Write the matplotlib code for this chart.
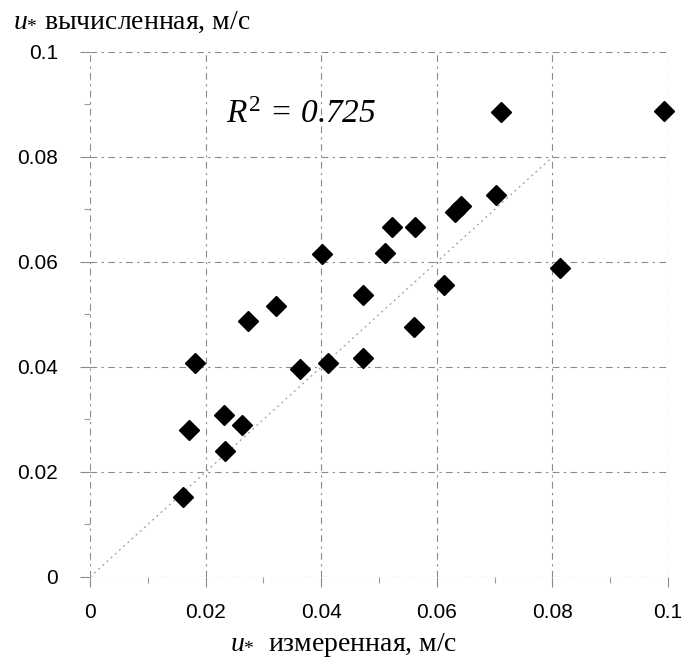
import matplotlib
matplotlib.use("Agg")
import matplotlib.pyplot as plt
from matplotlib.ticker import MultipleLocator, FixedLocator, FixedFormatter

plt.rcParams['mathtext.fontset'] = 'custom'
plt.rcParams['mathtext.rm'] = 'Liberation Serif'
plt.rcParams['mathtext.it'] = 'Liberation Serif:italic'
plt.rcParams['font.family'] = ['Liberation Sans', 'DejaVu Sans']

# measured vs computed friction velocity, m/s
u_measured = [0.0161, 0.0232, 0.0172, 0.0263, 0.0233, 0.0182, 0.0363, 0.0411,
              0.0472, 0.0273, 0.0322, 0.0472, 0.0401, 0.0511, 0.0522, 0.0562,
              0.0612, 0.0561, 0.0632, 0.0641, 0.0703, 0.0711, 0.0993, 0.0813]
u_computed = [0.0153, 0.0309, 0.0280, 0.0289, 0.0240, 0.0408, 0.0397, 0.0408,
              0.0417, 0.0487, 0.0517, 0.0537, 0.0616, 0.0617, 0.0666, 0.0666,
              0.0557, 0.0477, 0.0696, 0.0706, 0.0727, 0.0886, 0.0887, 0.0589]
line_x = [0.0, 0.08]
line_y = [0.0, 0.08]
ticks = [0, 0.02, 0.04, 0.06, 0.08, 0.1]
tick_labels = ["0", "0.02", "0.04", "0.06", "0.08", "0.1"]
r2_text = r"$R^{2}$ = 0.725"

fig = plt.figure(figsize=(6.93, 6.60), dpi=100)
ax = fig.add_axes([0.1299, 0.1258, 0.8341, 0.7955])

ax.set_xlim(0, 0.1)
ax.set_ylim(0, 0.1)

ax.xaxis.set_major_locator(FixedLocator(ticks))
ax.yaxis.set_major_locator(FixedLocator(ticks))
ax.xaxis.set_major_formatter(FixedFormatter(tick_labels))
ax.yaxis.set_major_formatter(FixedFormatter(tick_labels))
ax.xaxis.set_minor_locator(MultipleLocator(0.01))
ax.yaxis.set_minor_locator(MultipleLocator(0.01))

ax.grid(True, which='major', color='#8a8a8a', linestyle=(0, (6, 4, 2, 4)),
        linewidth=0.8)
for s in ax.spines.values():
    s.set_visible(False)

ax.tick_params(which='major', direction='out', length=7, width=0.8,
               color='#8a8a8a', labelsize=15, pad=16)
ax.tick_params(axis='x', which='major', pad=12)
ax.tick_params(which='minor', direction='out', length=4, width=0.8,
               color='#9a9a9a')

ax.plot(line_x, line_y, linestyle=(0, (1.5, 3)), color='#9a9a9a',
        linewidth=0.9, zorder=2)
ax.plot(u_measured, u_computed, linestyle='none', marker='D', markersize=10.5,
        color='black', zorder=3, clip_on=False)

ax.text(0.0235, 0.0865, r2_text, fontsize=24, family='Liberation Serif',
        style='italic', ha='left', va='baseline', zorder=4)

fig.text(0.019, 0.956, r"$u_{*}$ вычисленная, м/с", fontsize=20,
         family=['Liberation Serif', 'DejaVu Serif'], ha='left', va='baseline')
fig.text(0.332, 0.0136, r"$u_{*}$  измеренная, м/с", fontsize=20,
         family=['Liberation Serif', 'DejaVu Serif'], ha='left', va='baseline')

fig.savefig("out.png", dpi=100)
